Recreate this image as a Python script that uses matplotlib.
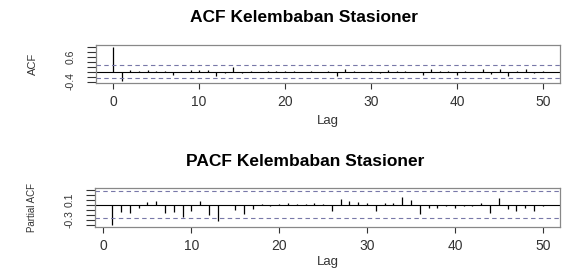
import numpy as np
import matplotlib
matplotlib.use("Agg")
import matplotlib.pyplot as plt

plt.rcParams['font.family'] = ['Liberation Sans', 'DejaVu Sans']

# ACF values, lag 0..50
acf_lags = list(range(0, 51))
acf_vals = [1.0, -0.39, 0.05, 0.04, 0.06, 0.04, 0.01, -0.12, 0.0, 0.05,
            0.06, 0.07, -0.17, -0.07, 0.18, -0.04, 0.01, 0.0, 0.03, 0.04,
            0.03, 0.02, 0.0, 0.03, 0.0, 0.03, -0.16, 0.10, 0.02, 0.0,
            0.03, -0.06, 0.07, 0.02, 0.03, 0.0, -0.15, 0.12, 0.03, 0.03,
            -0.13, 0.02, 0.0, 0.10, -0.10, 0.12, -0.18, 0.02, 0.09, -0.05,
            0.02]

# PACF values, lag 1..50
pacf_lags = list(range(1, 51))
pacf_vals = [-0.41, -0.15, -0.17, -0.07, 0.06, 0.07, -0.17, -0.15, -0.25, -0.13,
             0.07, -0.21, -0.32, 0.0, -0.11, -0.18, -0.09, 0.02, -0.03, 0.02,
             0.03, 0.02, 0.02, 0.03, 0.02, -0.12, 0.11, 0.07, 0.06, 0.04,
             -0.13, 0.03, 0.04, 0.15, 0.10, -0.19, -0.07, -0.07, -0.02, -0.07,
             -0.02, -0.03, 0.03, -0.16, 0.13, -0.08, -0.12, -0.07, -0.12, -0.02]

ci = 0.27
x_ticks = [0, 10, 20, 30, 40, 50]
acf_yticks = [-0.4, -0.2, 0.0, 0.2, 0.4, 0.6, 0.8, 1.0]
acf_ylabels = ['-0.4', '', '', '', '', '0.6', '', '']
pacf_yticks = [-0.4, -0.3, -0.2, -0.1, 0.0, 0.1, 0.2, 0.3]
pacf_ylabels = ['', '-0.3', '', '', '', '0.1', '', '']

W, H = 562, 272
fig = plt.figure(figsize=(W / 100, H / 100), dpi=100)


def panel(box, lags, vals, yticks, ylabels, ylabel, ylabel_size, xlim, ylim, lagpad):
    l, t, r, b = box
    ax = fig.add_axes([l / W, 1 - b / H, (r - l) / W, (b - t) / H])
    ax.vlines(lags, 0, vals, color='black', lw=0.9)
    ax.axhline(0, color='black', lw=0.8)
    ax.axhline(ci, color='#7878a8', lw=0.8, ls=(0, (4, 3)))
    ax.axhline(-ci, color='#7878a8', lw=0.8, ls=(0, (4, 3)))
    ax.set_xlim(*xlim)
    ax.set_ylim(*ylim)
    ax.set_xticks(x_ticks)
    ax.set_yticks(yticks)
    ax.set_yticklabels(ylabels, rotation=90, va='center')
    ax.tick_params(axis='x', length=4, width=0.8, labelsize=10, pad=5, colors='#333333')
    ax.tick_params(axis='y', length=6.5, width=0.8, labelsize=7.5, pad=8, colors='#333333')
    for s in ax.spines.values():
        s.set_color('#888888')
        s.set_linewidth(0.9)
    ax.set_ylabel(ylabel, fontsize=ylabel_size, labelpad=20, color='#333333')
    ax.set_xlabel('Lag', fontsize=9.5, labelpad=lagpad, color='#333333')
    return ax


panel((96, 45, 560, 83), acf_lags, acf_vals, acf_yticks, acf_ylabels, 'ACF', 8,
      (-2, 52), (-0.46, 1.06), 4)
panel((95, 188, 560, 227), pacf_lags, pacf_vals, pacf_yticks, pacf_ylabels, 'Partial ACF', 7,
      (-0.96, 51.96), (-0.45, 0.33), 2)

fig.text(304 / W, 1 - 18 / H, 'ACF Kelembaban Stasioner', ha='center', va='center',
         fontsize=12.5, fontweight='bold')
fig.text(305 / W, 1 - 162 / H, 'PACF Kelembaban Stasioner', ha='center', va='center',
         fontsize=12.5, fontweight='bold')

fig.savefig('out.png', dpi=100)
